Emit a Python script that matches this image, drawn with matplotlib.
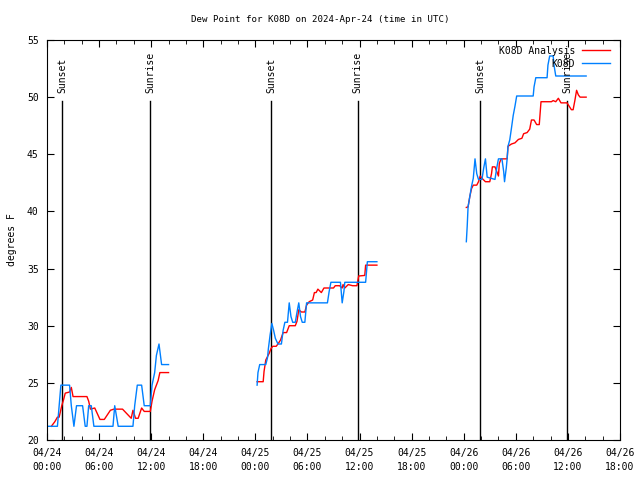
import numpy as np
import matplotlib
matplotlib.use("Agg")
import matplotlib.pyplot as plt
import matplotlib.dates as mdates
import pandas as pd

plt.rcParams['font.family'] = ['DejaVu Sans Mono']
plt.rcParams['font.size'] = 7

start = pd.Timestamp("2024-04-24 00:00")

# observed dew point (hours since 04/24 00 UTC, deg F); nan = gap
obs_hours = [0.1, 1.2, 1.4, 1.6, 2.6, 2.8, 3.1, 3.4, 4.1, 4.4, 4.6, 4.8, 5.1, 5.4,
             7.6, 7.8, 8.2, 9.9, 10.1, 10.4, 10.9, 11.2, 11.9, 12.1, 12.4, 12.6,
             12.9, 13.2, 14.0,
             np.nan,
             24.2, 24.3, 24.5, 25.2, 25.4, 25.5, 25.7, 25.9, 26.1, 26.3, 26.6, 27.0,
             27.2, 27.4, 27.7, 27.9, 28.1, 28.3, 28.6, 28.8, 29.0, 29.2, 29.4, 29.7,
             29.9, 32.3, 32.5, 32.7, 33.8, 33.9, 34.0, 34.2, 34.3, 36.7, 36.9, 38.0,
             np.nan,
             48.3, 48.4, 48.5, 48.7, 48.9, 49.1, 49.3, 49.5, 49.7, 50.1, 50.3, 50.5,
             50.7, 51.6, 51.8, 52.0, 52.4, 52.6, 52.7, 52.9, 53.0, 53.1, 53.3, 53.5,
             53.7, 53.9, 54.1, 56.0, 56.1, 56.3, 57.6, 57.7, 57.9, 58.3, 58.4, 58.6,
             62.1]
obs_dewpt = [21.2, 21.2, 23.0, 24.8, 24.8, 23.0, 21.2, 23.0, 23.0, 21.2, 21.2, 23.0, 23.0, 21.2,
             21.2, 23.0, 21.2, 21.2, 23.0, 24.8, 24.8, 23.0, 23.0, 24.8, 25.9, 27.4,
             28.4, 26.6, 26.6,
             np.nan,
             24.8, 25.9, 26.6, 26.6, 27.2, 28.0, 29.2, 30.2, 29.6, 28.9, 28.4, 28.4,
             29.6, 30.3, 30.3, 32.0, 30.8, 30.3, 30.3, 31.2, 32.0, 30.8, 30.3, 30.3,
             32.0, 32.0, 33.0, 33.8, 33.8, 32.9, 32.0, 33.0, 33.8, 33.8, 35.6, 35.6,
             np.nan,
             37.35, 38.7, 40.4, 41.3, 42.2, 42.9, 44.6, 43.3, 42.8, 42.8, 43.8, 44.6,
             43.0, 42.8, 43.8, 44.6, 44.6, 43.5, 42.6, 43.8, 44.6, 45.7, 46.25, 47.3,
             48.4, 49.2, 50.1, 50.1, 50.9, 51.7, 51.7, 52.8, 53.6, 53.6, 52.8, 51.85,
             51.85]

# analysis dew point
ana_hours = [0.5, 0.9, 1.2, 1.4, 1.7, 1.9, 2.1, 2.6, 2.8, 3.0, 4.6, 4.8, 5.0, 5.5,
             6.1, 6.6, 7.3, 7.7, 8.7, 9.2, 9.7, 9.9, 10.2, 10.5, 10.9, 11.2, 11.9,
             12.1, 12.4, 12.8, 13.0, 14.0,
             np.nan,
             24.2, 24.9, 25.0, 25.2, 25.4, 25.6, 25.8, 26.0, 26.4, 26.6, 26.9, 27.2,
             27.6, 27.9, 28.6, 28.8, 29.0, 29.3, 29.7, 29.9, 30.2, 30.6, 30.8, 31.0,
             31.2, 31.6, 31.9, 33.0, 33.2, 33.7, 34.0, 34.1, 34.3, 34.7, 35.2, 35.7,
             35.9, 36.6, 36.7, 38.0,
             np.nan,
             48.3, 48.5, 48.7, 48.9, 49.1, 49.5, 49.7, 49.9, 50.1, 50.5, 51.0, 51.2,
             51.3, 51.6, 51.8, 52.0, 52.1, 52.3, 53.0, 53.1, 53.3, 53.5, 53.9, 54.3,
             54.7, 54.9, 55.3, 55.6, 55.8, 56.1, 56.4, 56.7, 56.9, 58.1, 58.3, 58.6,
             58.9, 59.2, 59.9, 60.4, 60.6, 60.8, 61.0, 61.2, 61.4, 62.1]
ana_dewpt = [21.2, 21.6, 22.0, 22.0, 23.0, 23.5, 24.1, 24.2, 24.6, 23.8, 23.8, 23.4, 22.7, 22.8,
             21.8, 21.8, 22.6, 22.7, 22.7, 22.3, 21.9, 22.6, 21.9, 21.9, 22.8, 22.5, 22.5,
             23.4, 24.4, 25.2, 25.9, 25.9,
             np.nan,
             25.1, 25.1, 26.0, 27.0, 27.3, 27.6, 28.0, 28.2, 28.2, 28.4, 28.75, 29.4,
             29.4, 30.0, 30.0, 30.4, 31.4, 31.2, 31.2, 31.8, 32.1, 32.25, 32.9, 32.9,
             33.2, 32.9, 33.3, 33.3, 33.5, 33.5, 33.3, 33.6, 33.3, 33.6, 33.5, 33.5,
             34.35, 34.4, 35.3, 35.3,
             np.nan,
             40.35, 40.4, 41.3, 42.0, 42.3, 42.3, 42.6, 43.1, 42.9, 42.6, 42.6, 43.3,
             43.9, 43.9, 43.5, 43.1, 44.2, 44.6, 44.6, 45.7, 45.8, 45.9, 46.0, 46.3,
             46.4, 46.8, 46.9, 47.2, 48.0, 48.0, 47.6, 47.6, 49.6, 49.6, 49.7, 49.6,
             49.9, 49.5, 49.5, 48.9, 48.9, 49.7, 50.6, 50.2, 50.0, 50.0]

sunset_hours = [1.75, 25.8, 49.9]
sunrise_hours = [11.85, 35.8, 59.9]

t0 = mdates.date2num(start.to_pydatetime())


def to_num(hours):
    # matplotlib date numbers (days), nan stays nan
    return t0 + np.asarray(hours, dtype=float) / 24.0


fig = plt.figure(figsize=(6.4, 4.8), dpi=100)
ax = fig.add_axes([47/640, 40/480, 573/640, 400/480])
ax.xaxis_date()

for name, hrs in (('Sunset', sunset_hours), ('Sunrise', sunrise_hours)):
    for t in to_num(hrs):
        ax.plot([t, t], [20, 49.7], color='black', lw=1.0)
        ax.text(t, 50.4, name, rotation=90, ha='center', va='bottom', fontsize=7)

ax.plot(to_num(ana_hours), ana_dewpt, color='#ff0000', lw=1.0, label='K08D Analysis')
ax.plot(to_num(obs_hours), obs_dewpt, color='#0080ff', lw=1.0, label='K08D')

ax.set_xlim(t0, t0 + 66/24)
ax.set_ylim(20, 55)

major = pd.date_range(start, periods=12, freq='6h')
ax.set_xticks(to_num(np.arange(0, 67, 6)),
              [t.strftime('%m/%d\n%H:%M') for t in major])
ax.set_xticks(to_num(np.arange(0, 67, 2)), minor=True)
for lbl in ax.get_xticklabels():
    lbl.set_linespacing(1.45)
ax.set_yticks(np.arange(20, 56, 5))
ax.tick_params(which='both', direction='in', top=True, right=True, labelsize=7)
ax.tick_params(which='major', length=5, pad=6)
ax.tick_params(which='minor', length=3)

ax.set_ylabel('degrees F', fontsize=7, labelpad=7)
fig.suptitle('Dew Point for K08D on 2024-Apr-24 (time in UTC)', x=0.5, y=1 - 19/480,
             va='center', fontsize=6.6)

leg = ax.legend(loc='upper right', bbox_to_anchor=(1.0, 1.01), frameon=False,
                markerfirst=False, fontsize=7, handlelength=2.9,
                borderaxespad=0.8, borderpad=0.2, labelspacing=0.3, handletextpad=0.7)

fig.savefig('out.png', dpi=100)
